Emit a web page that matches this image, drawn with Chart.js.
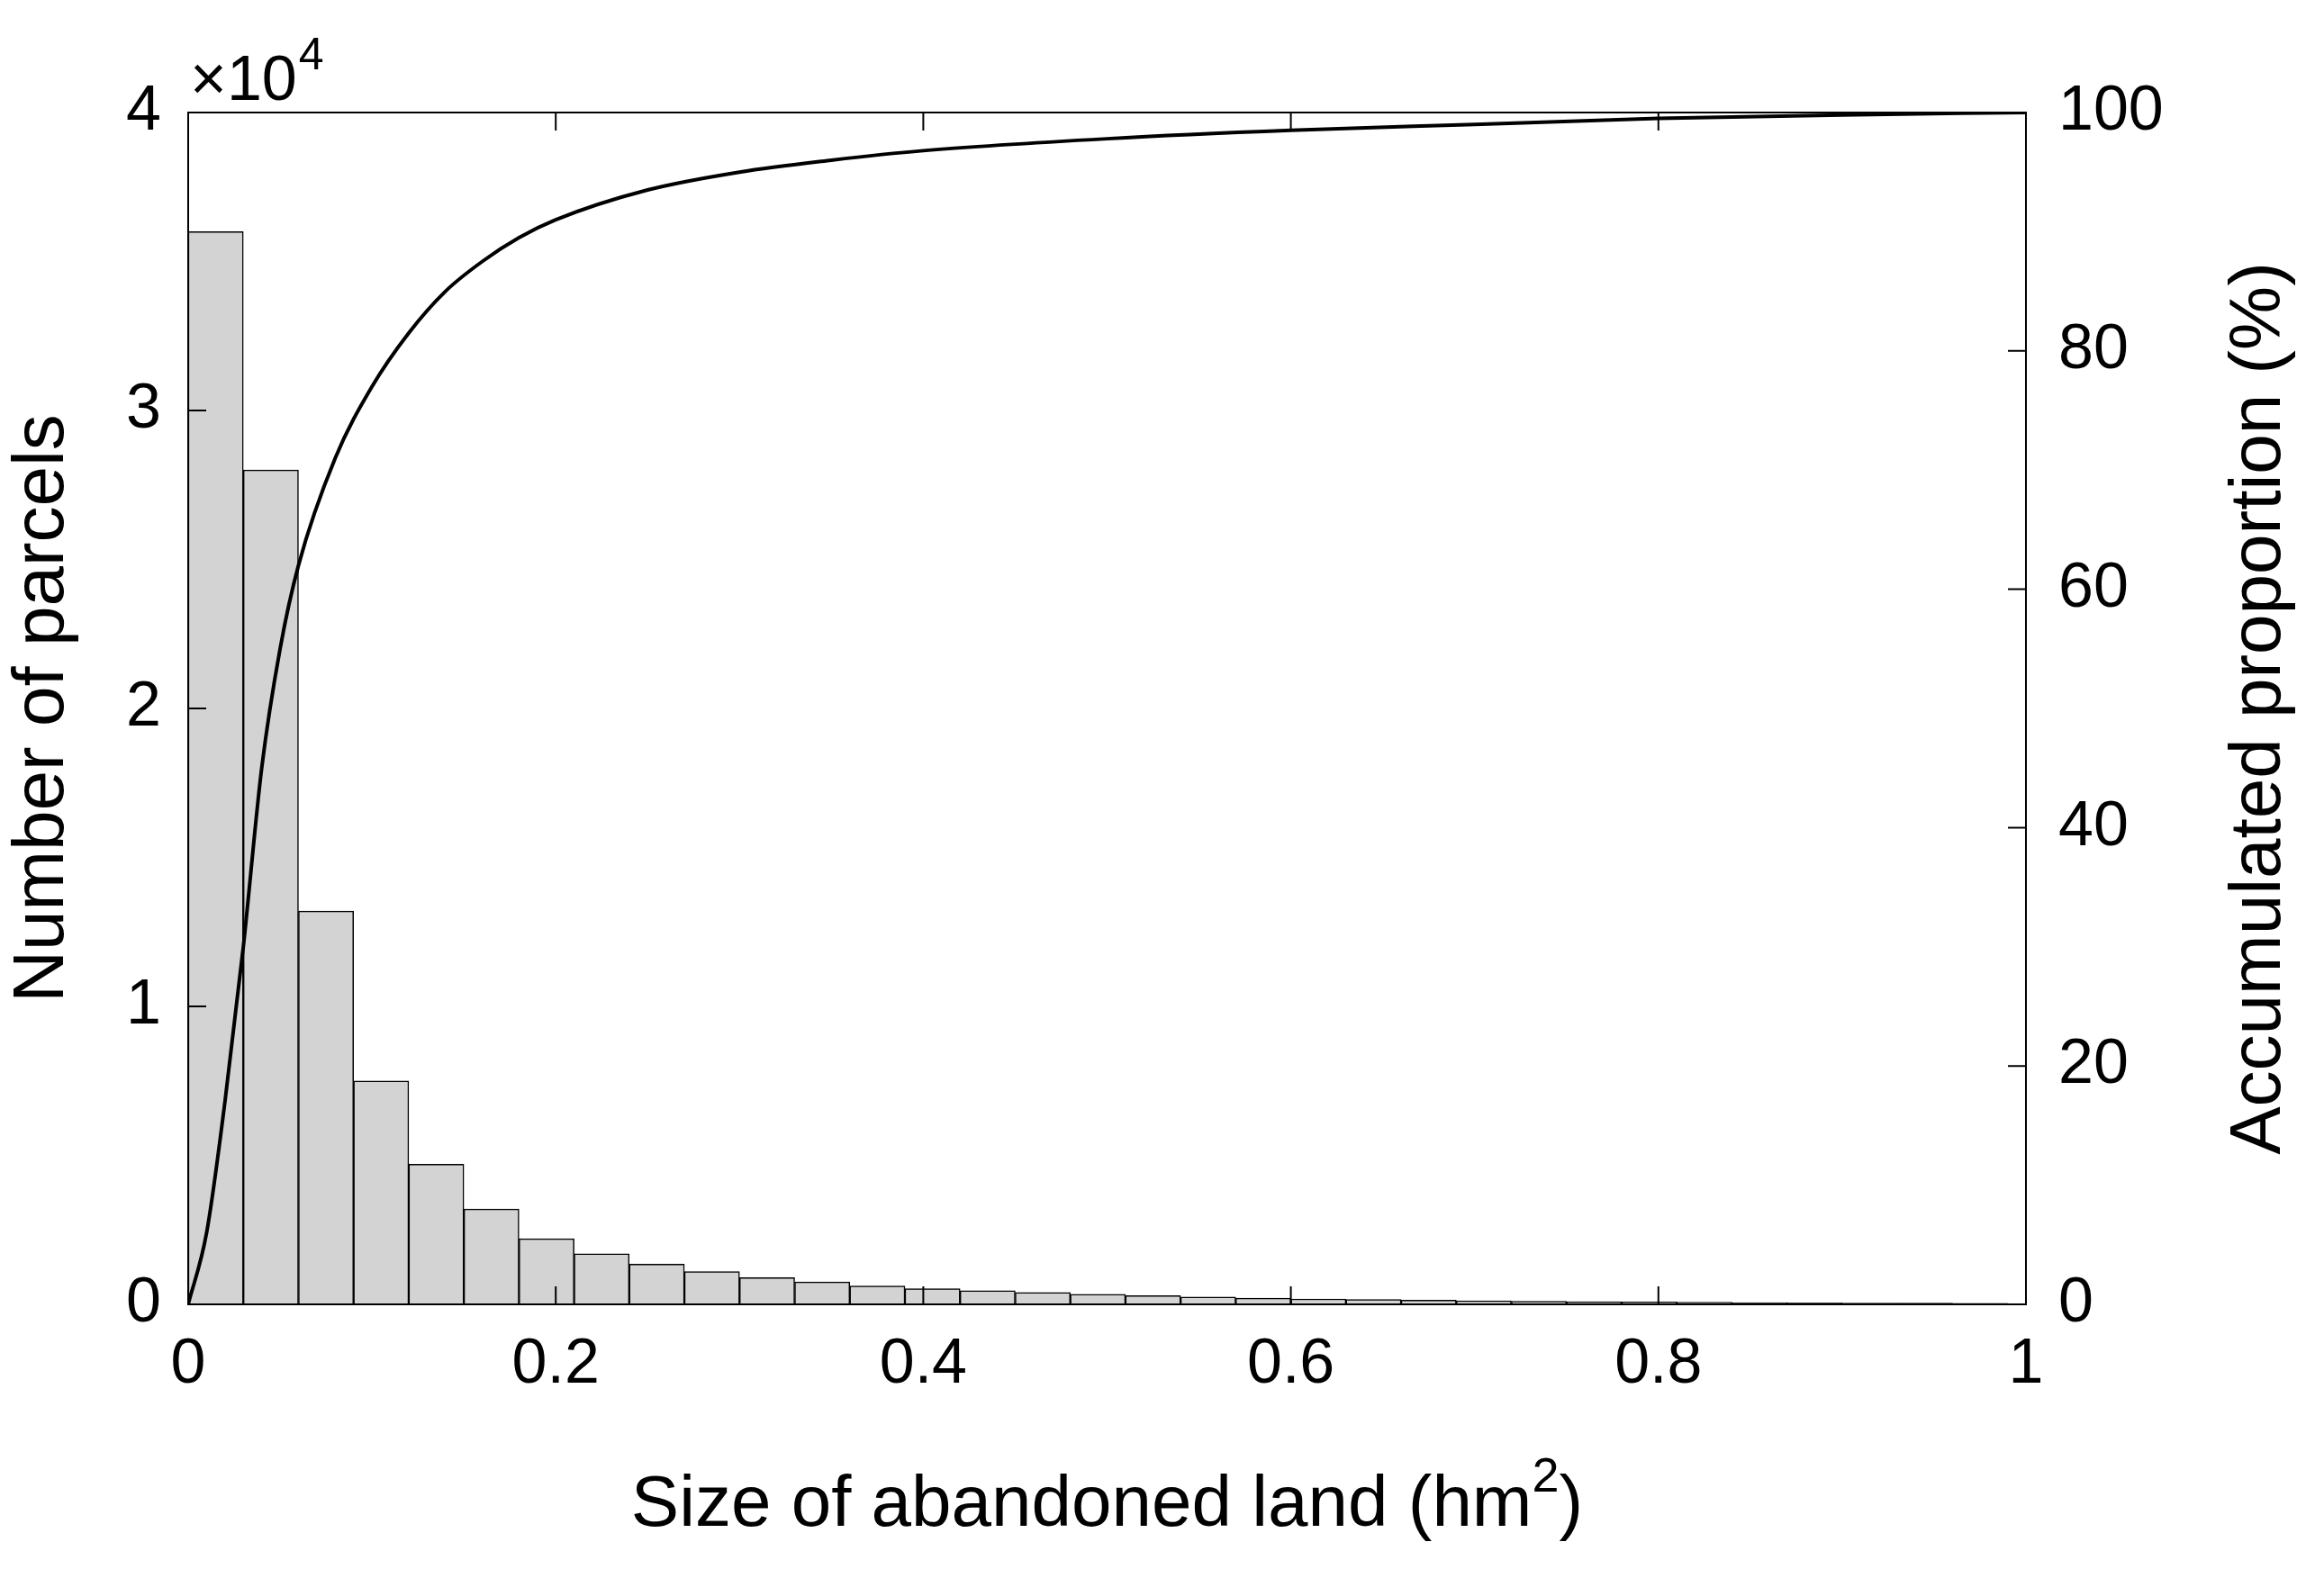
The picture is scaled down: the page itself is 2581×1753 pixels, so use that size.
<!DOCTYPE html>
<html>
<head>
<meta charset="utf-8">
<script src="https://cdn.jsdelivr.net/npm/chart.js@4.4.0/dist/chart.umd.min.js"></script>
<style>
  html, body { margin: 0; padding: 0; background: #fff; }
  #wrap { width: 2581px; height: 1753px; }
</style>
</head>
<body>
<div id="wrap"><canvas id="chart"></canvas></div>
<script>
// histogram bins, width 0.03 hm2
const BIN_WIDTH = 0.03;
const binCenters = [];
for (let i = 0; i < 33; i++) binCenters.push(+(BIN_WIDTH * i + BIN_WIDTH / 2).toFixed(3));
const parcelCounts = [36000, 28000, 13200, 7500, 4700, 3200, 2200, 1700, 1350, 1100, 900, 750,
  620, 530, 460, 400, 340, 290, 250, 210, 180, 160, 140, 120, 100, 90, 80, 70, 60, 50, 45, 40, 35];

// accumulated proportion curve
const curveX = [0, 0.01, 0.02, 0.03, 0.04, 0.05, 0.06, 0.08, 0.1, 0.12, 0.14, 0.16, 0.18, 0.2,
  0.25, 0.3, 0.35, 0.4, 0.5, 0.6, 0.7, 0.8, 0.9, 1.0];
const curveY = [0, 6, 17, 30, 45, 55, 62, 71, 77, 81.5, 85, 87.5, 89.5, 91,
  93.5, 95, 96, 96.8, 97.8, 98.5, 99, 99.5, 99.8, 100];

const xTicks = [0, 0.2, 0.4, 0.6, 0.8, 1];
const leftTicks = [0, 10000, 20000, 30000, 40000];
const rightTicks = [0, 20, 40, 60, 80, 100];

const FONT = '"Liberation Sans", Arial, sans-serif';
const TICK_SIZE = 70;
const TITLE_SIZE = 80;

const extras = {
  id: 'extras',
  afterDraw(chart) {
    const { ctx, chartArea: a, scales } = chart;
    ctx.save();
    ctx.strokeStyle = '#000';
    ctx.lineWidth = 2;
    ctx.strokeRect(a.left, a.top, a.right - a.left, a.bottom - a.top);
    // inner ticks
    const len = 20;
    ctx.beginPath();
    xTicks.forEach(v => {
      const x = scales.x.getPixelForValue(v);
      ctx.moveTo(x, a.bottom); ctx.lineTo(x, a.bottom - len);
      ctx.moveTo(x, a.top); ctx.lineTo(x, a.top + len);
    });
    leftTicks.forEach(v => {
      const y = scales.y.getPixelForValue(v);
      ctx.moveTo(a.left, y); ctx.lineTo(a.left + len, y);
    });
    rightTicks.forEach(v => {
      const y = scales.y2.getPixelForValue(v);
      ctx.moveTo(a.right, y); ctx.lineTo(a.right - len, y);
    });
    ctx.stroke();
    ctx.fillStyle = '#000';
    // x10^4 label
    ctx.textBaseline = 'alphabetic';
    ctx.textAlign = 'left';
    ctx.font = '70px ' + FONT;
    ctx.fillText('\u00d710', a.left + 2, a.top - 14);
    const w = ctx.measureText('\u00d710').width;
    ctx.font = '50px ' + FONT;
    ctx.fillText('4', a.left + 4 + w, a.top - 48);
    // x title with superscript
    const t1 = 'Size of abandoned land (hm';
    const t2 = ')';
    ctx.font = TITLE_SIZE + 'px ' + FONT;
    const w1 = ctx.measureText(t1).width, w3 = ctx.measureText(t2).width;
    ctx.font = '54px ' + FONT;
    const w2 = ctx.measureText('2').width;
    const cx = (a.left + a.right) / 2;
    const sx = cx - (w1 + w2 + w3) / 2;
    const by = 1695;
    ctx.font = TITLE_SIZE + 'px ' + FONT;
    ctx.fillText(t1, sx, by);
    ctx.font = '54px ' + FONT;
    ctx.fillText('2', sx + w1, by - 38);
    ctx.font = TITLE_SIZE + 'px ' + FONT;
    ctx.fillText(t2, sx + w1 + w2, by);
    // right title, reading bottom to top
    ctx.translate(2510, (a.top + a.bottom) / 2);
    ctx.rotate(-Math.PI / 2);
    ctx.textAlign = 'center';
    ctx.textBaseline = 'middle';
    ctx.fillText('Accumulated proportion (%)', 0, 0);
    ctx.restore();
  }
};

new Chart(document.getElementById('chart'), {
  data: {
    datasets: [
      {
        type: 'line',
        data: curveX.map((x, i) => ({ x, y: curveY[i] })),
        yAxisID: 'y2',
        borderColor: '#000',
        borderWidth: 4,
        pointRadius: 0,
        cubicInterpolationMode: 'monotone',
        order: 0
      },
      {
        type: 'bar',
        data: binCenters.map((x, i) => ({ x, y: parcelCounts[i] })),
        yAxisID: 'y',
        backgroundColor: '#d3d3d3',
        borderColor: '#000',
        borderWidth: 1.5,
        barPercentage: 1,
        categoryPercentage: 1,
        order: 1
      }
    ]
  },
  options: {
    responsive: true,
    maintainAspectRatio: false,
    animation: false,
    layout: { padding: { top: 125, left: 0, right: 0, bottom: 0 } },
    plugins: { legend: { display: false }, tooltip: { enabled: false } },
    scales: {
      x: {
        type: 'linear', min: 0, max: 1, offset: false,
        grid: { display: false },
        border: { display: false },
        afterBuildTicks: s => { s.ticks = xTicks.map(v => ({ value: v })); },
        afterFit: s => { s.height = 304; },
        ticks: { color: '#000', font: { family: FONT, size: TICK_SIZE }, padding: 18, maxRotation: 0,
          callback: v => String(v) }
      },
      y: {
        position: 'left', min: 0, max: 40000,
        grid: { display: false },
        border: { display: false },
        afterBuildTicks: s => { s.ticks = leftTicks.map(v => ({ value: v })); },
        afterFit: s => { s.width = 209; },
        ticks: { color: '#000', font: { family: FONT, size: TICK_SIZE }, padding: 22,
          callback: v => String(v / 10000) },
        title: { display: true, text: 'Number of parcels', color: '#000',
          font: { family: FONT, size: TITLE_SIZE }, padding: { top: 0, bottom: 10 } }
      },
      y2: {
        position: 'right', min: 0, max: 100,
        grid: { display: false },
        border: { display: false },
        afterBuildTicks: s => { s.ticks = rightTicks.map(v => ({ value: v })); },
        afterFit: s => { s.width = 331; },
        ticks: { color: '#000', font: { family: FONT, size: TICK_SIZE }, padding: 28 }
      }
    }
  },
  plugins: [extras]
});
</script>
</body>
</html>
